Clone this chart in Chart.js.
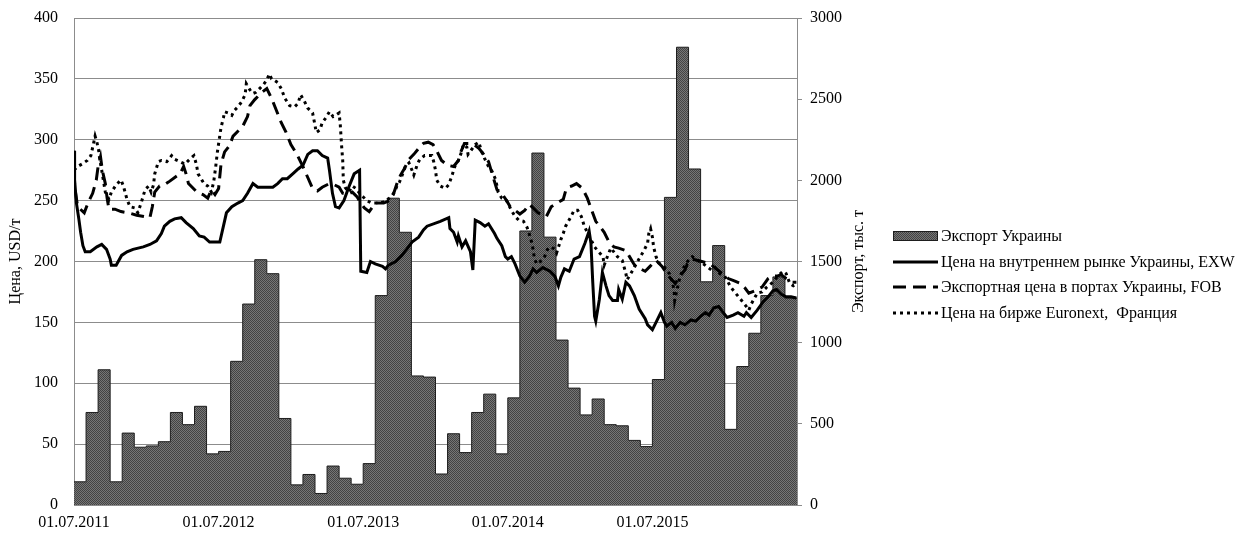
<!DOCTYPE html>
<html>
<head>
<meta charset="utf-8">
<script src="https://cdn.jsdelivr.net/npm/chart.js@4"></script>
<style>
  html, body { margin: 0; padding: 0; background: #ffffff; }
  #wrap { width: 1244px; height: 536px; }
</style>
</head>
<body>
<div id="wrap"><canvas id="chart" width="1244" height="536"></canvas></div>
<script>
// x values are months counted from 01.07.2011
const tickMonths = [0, 12, 24, 36, 48];
const tickLabels = ['01.07.2011', '01.07.2012', '01.07.2013', '01.07.2014', '01.07.2015'];

const leftAxisTitle = 'Цена, USD/т';
const rightAxisTitle = 'Экспорт, тыс. т';
const seriesNames = [
  'Экспорт Украины',
  'Цена на внутреннем рынке Украины, EXW',
  'Экспортная цена в портах Украины, FOB',
  'Цена на бирже Euronext,  Франция'
];

// monthly export volume, thousand tonnes (July 2011 .. June 2016)
const exportVolume = [
  143, 570, 833, 143, 443, 356, 364, 390, 570, 495, 608, 315,
  330, 885, 1238, 1511, 1425, 533, 124, 188, 71, 240, 165, 128,
  255, 1290, 1890, 1680, 795, 788, 191, 439, 323, 570, 683, 315,
  660, 1688, 2168, 1650, 1016, 720, 555, 653, 495, 488, 398, 360,
  773, 1895, 2820, 2070, 1375, 1598, 466, 853, 1058, 1290, 1405, 1275
];

// domestic price EXW, USD/t: [month, price]
const exwPrice = [
  [0,291],[0.05,267],[0.2,248],[0.4,235],[0.55,224],[0.74,213],[0.93,208],[1.35,208],[1.9,212],[2.3,214],
  [2.7,210],[3.0,202],[3.1,197],[3.5,197],[3.95,205],[4.4,208],[4.9,210],[5.75,212],[6.3,214],[6.85,217],
  [7.25,223],[7.5,229],[7.95,233],[8.35,235],[8.9,236],[9.3,232],[9.9,227],[10.4,221],[10.8,220],[11.25,216],
  [12.1,216],[12.4,229],[12.65,240],[13.1,245],[13.6,248],[14.0,250],[14.4,256],[14.85,264],[15.25,261],[16.5,261],
  [16.9,264],[17.3,268],[17.7,268],[18.15,272],[18.6,276],[19.0,279],[19.4,288],[19.8,291],[20.2,291],[20.6,287],
  [21.05,285],[21.2,275],[21.45,256],[21.7,245],[22.0,244],[22.4,250],[22.8,261],[23.25,272],[23.7,275],[23.8,192],
  [24.3,191],[24.6,200],[25.0,198],[25.6,196],[25.85,194],[26.1,197],[26.7,200],[27.2,205],[27.6,210],[28.05,216],
  [28.6,220],[29.0,226],[29.3,229],[30.4,233],[31.1,236],[31.2,227],[31.5,224],[31.8,216],[31.9,221],[32.2,212],
  [32.5,217],[32.9,208],[33.1,193],[33.3,234],[33.7,232],[34.1,229],[34.4,231],[34.9,223],[35.1,219],[35.5,213],
  [35.8,204],[36.0,202],[36.3,204],[36.6,198],[37.0,188],[37.4,183],[37.8,188],[38.1,194],[38.4,191],[38.9,195],
  [39.5,192],[39.9,188],[40.2,180],[40.4,187],[40.7,194],[41.1,192],[41.5,202],[41.95,204],[42.4,215],[42.75,225],
  [42.9,215],[43.05,183],[43.2,155],[43.3,151],[43.6,169],[43.85,191],[44.15,180],[44.4,172],[44.7,168],[45.1,168],
  [45.2,177],[45.5,169],[45.8,183],[46.1,180],[46.5,172],[46.9,161],[47.4,153],[47.6,148],[48.0,144],[48.3,150],
  [48.7,158],[49.0,150],[49.2,147],[49.6,150],[49.9,145],[50.3,150],[50.7,148],[51.2,152],[51.6,151],[52.0,155],
  [52.4,158],[52.7,156],[53.1,162],[53.5,163],[53.8,159],[54.2,154],[54.7,156],[55.1,158],[55.6,155],[55.8,158],
  [56.2,154],[56.7,160],[57.2,167],[57.6,171],[58.0,176],[58.3,177],[58.7,173],[59.1,171],[59.5,171],[59.95,170]
];

// export price FOB, USD/t: [month, price]
const fobPrice = [
  [0,291],[0.05,262],[0.3,245],[0.85,240],[1.2,249],[1.55,256],[1.85,267],[2.0,278],[2.2,286],[2.35,275],
  [2.6,264],[2.75,252],[2.9,243],[3.4,243],[3.9,241],[4.5,240],[5.2,238],[5.8,237],[6.3,236],[6.5,245],
  [6.7,257],[7.1,262],[7.5,263],[7.95,266],[8.5,270],[8.8,272],[9.1,278],[9.3,272],[9.5,264],[10.2,257],
  [10.7,255],[11.1,252],[11.4,259],[11.7,255],[12.0,260],[12.2,280],[12.5,290],[12.9,295],[13.2,303],[13.6,307],
  [14.0,311],[14.4,319],[14.6,328],[15.0,333],[15.3,336],[15.6,339],[16.0,342],[16.4,334],[16.8,324],[17.2,314],
  [17.6,306],[18.0,296],[18.5,288],[19.0,278],[19.4,269],[19.8,260],[20.2,258],[20.6,261],[21.2,264],[21.6,263],
  [22.0,261],[22.3,256],[22.7,255],[23.1,257],[23.5,253],[23.8,248],[24.1,244],[24.5,241],[25.0,248],[25.7,248],
  [26.2,250],[26.5,255],[26.8,264],[27.1,271],[27.4,276],[27.8,284],[28.2,288],[28.7,294],[29.0,297],[29.4,298],
  [29.8,296],[30.1,291],[30.5,283],[31.0,279],[31.5,278],[31.9,283],[32.1,290],[32.4,297],[32.8,297],[33.2,296],
  [33.6,293],[34.0,288],[34.4,282],[34.7,272],[35.1,259],[35.5,256],[35.9,250],[36.2,245],[36.6,242],[37.0,239],
  [37.4,242],[37.8,247],[38.2,243],[38.5,240],[38.9,238],[39.2,237],[39.6,245],[40.1,248],[40.6,251],[40.8,258],
  [41.0,261],[41.3,262],[41.7,264],[42.2,260],[42.6,252],[43.0,241],[43.3,233],[43.7,228],[44.0,224],[44.4,216],
  [44.8,212],[45.2,211],[45.8,209],[46.1,204],[46.4,199],[46.6,196],[47.0,194],[47.4,192],[47.8,196],[48.3,201],
  [48.8,196],[49.2,190],[49.6,185],[49.9,182],[50.3,188],[50.7,193],[50.9,198],[51.3,202],[51.7,201],[52.1,200],
  [52.8,198],[53.3,194],[53.8,190],[54.3,186],[54.8,184],[55.3,182],[55.7,178],[56.0,174],[56.5,176],[57.1,179],
  [57.6,186],[57.9,188],[58.3,188],[58.7,189],[59.1,186],[59.6,183],[59.95,183]
];

// Euronext (France) quote, USD/t: [month, price]
const euronextPrice = [
  [0,275],[0.3,278],[0.65,280],[1.1,283],[1.4,287],[1.6,296],[1.75,303],[1.9,298],[2.05,291],[2.15,283],
  [2.3,275],[2.6,257],[2.9,251],[3.1,257],[3.5,263],[3.9,267],[4.1,262],[4.4,251],[4.65,245],[5.05,244],
  [5.3,240],[5.6,249],[5.9,259],[6.2,262],[6.4,257],[6.6,263],[6.7,272],[7.0,282],[7.25,283],[7.7,282],
  [8.1,287],[8.35,284],[8.8,282],[9.2,280],[9.6,284],[9.95,287],[10.15,280],[10.3,272],[10.6,267],[10.8,264],
  [11.1,262],[11.4,257],[11.6,266],[11.75,277],[11.9,290],[12.05,300],[12.2,310],[12.4,318],[12.5,323],[12.8,322],
  [13.1,320],[13.3,324],[13.6,327],[13.9,331],[14.2,337],[14.3,346],[14.6,341],[14.85,338],[15.1,339],[15.4,342],
  [15.7,345],[16.0,349],[16.2,354],[16.4,350],[16.6,349],[16.9,347],[17.2,342],[17.5,334],[17.9,328],[18.3,327],
  [18.6,330],[18.8,337],[19.1,332],[19.4,326],[19.8,322],[20.0,312],[20.1,306],[20.4,308],[20.6,314],[20.9,318],
  [21.2,323],[21.5,319],[21.7,320],[22.0,322],[22.1,312],[22.2,296],[22.3,283],[22.35,267],[22.5,261],[22.8,257],
  [23.1,262],[23.4,260],[23.7,256],[24.0,253],[24.3,250],[24.7,248],[25.3,248],[25.8,249],[26.3,253],[26.6,257],
  [26.8,262],[27.0,265],[27.2,270],[27.5,278],[27.8,281],[28.05,275],[28.2,271],[28.5,280],[28.7,284],[29.1,287],
  [29.7,287],[29.85,282],[30.0,275],[30.1,267],[30.4,262],[30.8,260],[31.1,263],[31.35,270],[31.6,278],[31.9,283],
  [32.2,291],[32.3,296],[32.6,294],[32.7,288],[33.0,292],[33.3,296],[33.6,298],[33.8,291],[34.1,284],[34.4,278],
  [34.7,274],[35.0,267],[35.2,257],[35.5,252],[35.9,250],[36.3,242],[36.6,237],[36.9,234],[37.3,233],[37.6,228],
  [37.8,222],[37.95,217],[38.1,210],[38.2,203],[38.4,198],[38.7,200],[39.05,204],[39.3,210],[39.6,212],[39.9,210],
  [40.05,207],[40.4,218],[40.6,223],[40.8,229],[41.25,237],[41.5,242],[41.8,242],[42.1,237],[42.35,229],[42.9,218],
  [43.2,212],[43.45,209],[43.9,204],[44.0,197],[44.3,205],[44.55,211],[45.1,204],[45.5,201],[45.8,190],[45.9,185],
  [46.2,190],[46.6,197],[47.0,204],[47.3,209],[47.6,215],[47.7,223],[47.85,227],[48.0,220],[48.1,212],[48.3,204],
  [48.5,199],[48.95,196],[49.4,190],[49.6,185],[49.8,177],[49.85,168],[50.0,175],[50.3,188],[50.7,197],[51.0,201],
  [51.3,204],[51.7,201],[52.1,199],[52.5,196],[52.9,193],[53.2,195],[53.6,190],[54.0,188],[54.5,179],[54.9,174],
  [55.4,168],[55.8,163],[56.0,160],[56.2,165],[56.7,174],[57.1,175],[57.5,179],[58.0,183],[58.4,188],[58.85,192],
  [59.1,190],[59.4,182],[59.7,180],[59.95,181]
];

const FONT = "'Liberation Serif', 'Times New Roman', serif";
Chart.defaults.font.family = FONT;
Chart.defaults.font.size = 16;
Chart.defaults.color = '#000000';

// fine grey texture for the export area
function makeTexture() {
  const c = document.createElement('canvas');
  c.width = 2; c.height = 2;
  const g = c.getContext('2d');
  g.fillStyle = '#767676';
  g.fillRect(0, 0, 2, 2);
  g.fillStyle = '#434343';
  g.fillRect(0, 0, 1, 1);
  g.fillRect(1, 1, 1, 1);
  return g.createPattern(c, 'repeat');
}
const exportFill = makeTexture();

// stepped area: each month holds its value until the next month starts
const exportPoints = exportVolume.map((v, i) => ({ x: i, y: v }));
exportPoints.push({ x: exportVolume.length, y: exportVolume[exportVolume.length - 1] });

const toPoints = arr => arr.map(p => ({ x: p[0], y: p[1] }));

const GRID = '#8c8c8c';

// value axes keep their label gap without pushing the plot down
const noEdgePadding = scale => { scale.paddingTop = 0; scale.paddingBottom = 0; };

// right-hand axis title and legend drawn beside the plot
const sideDecor = {
  id: 'sideDecor',
  afterDraw(chart) {
    const { ctx, chartArea } = chart;
    const midY = (chartArea.top + chartArea.bottom) / 2;

    ctx.save();
    ctx.font = '16px ' + FONT;
    ctx.fillStyle = '#000';
    ctx.textAlign = 'center';
    ctx.textBaseline = 'middle';
    ctx.translate(chartArea.right + 62, midY);
    ctx.rotate(-Math.PI / 2);
    ctx.fillText(rightAxisTitle, 0, 0);
    ctx.restore();

    const x0 = chartArea.right + 96;
    const w = 45;
    const rowMid = midY + 13;
    chart.data.datasets.forEach((ds, i) => {
      const y = Math.round(rowMid + (i - 1.5) * 25.5);
      ctx.save();
      if (ds.fill) {
        ctx.fillStyle = ds.backgroundColor;
        ctx.fillRect(x0, y - 5, w, 10);
        ctx.strokeStyle = ds.borderColor;
        ctx.lineWidth = 1;
        ctx.strokeRect(x0 + 0.5, y - 4.5, w - 1, 9);
      } else {
        ctx.strokeStyle = ds.borderColor;
        ctx.lineWidth = ds.borderWidth;
        ctx.setLineDash(ds.borderDash || []);
        ctx.beginPath();
        ctx.moveTo(x0, y);
        ctx.lineTo(x0 + w, y);
        ctx.stroke();
        ctx.setLineDash([]);
      }
      ctx.font = '16px ' + FONT;
      ctx.fillStyle = '#000';
      ctx.textAlign = 'left';
      ctx.textBaseline = 'middle';
      ctx.fillText(ds.label, x0 + w + 3, y + 1);
      ctx.restore();
    });
  }
};

new Chart(document.getElementById('chart'), {
  type: 'line',
  data: {
    datasets: [
      {
        label: seriesNames[0],
        data: exportPoints,
        yAxisID: 'y2',
        stepped: 'before',
        fill: 'origin',
        backgroundColor: exportFill,
        borderColor: '#1e1e1e',
        borderWidth: 1,
        pointRadius: 0,
        order: 2
      },
      {
        label: seriesNames[1],
        data: toPoints(exwPrice),
        yAxisID: 'y',
        borderColor: '#000000',
        borderWidth: 3,
        pointRadius: 0,
        fill: false,
        tension: 0,
        order: 0
      },
      {
        label: seriesNames[2],
        data: toPoints(fobPrice),
        yAxisID: 'y',
        borderColor: '#000000',
        borderWidth: 3,
        borderDash: [13, 7],
        pointRadius: 0,
        fill: false,
        tension: 0,
        order: 0
      },
      {
        label: seriesNames[3],
        data: toPoints(euronextPrice),
        yAxisID: 'y',
        borderColor: '#000000',
        borderWidth: 3,
        borderDash: [3, 4],
        pointRadius: 0,
        fill: false,
        tension: 0,
        order: 0
      }
    ]
  },
  options: {
    responsive: false,
    animation: false,
    layout: { padding: { left: 0, right: 367, top: 18, bottom: 0 } },
    plugins: { legend: { display: false }, tooltip: { enabled: false } },
    scales: {
      x: {
        type: 'linear',
        min: 0,
        max: 60,
        afterBuildTicks: scale => { scale.ticks = tickMonths.map(v => ({ value: v })); },
        afterFit: scale => { scale.height = 31; },
        ticks: {
          callback: (value, index) => tickLabels[index],
          autoSkip: false,
          maxRotation: 0,
          minRotation: 0,
          padding: 8,
          color: '#000'
        },
        grid: { display: false, drawTicks: false },
        border: { display: true, color: GRID, width: 1 }
      },
      y: {
        position: 'left',
        min: 0,
        max: 400,
        afterFit: scale => { scale.width = 74; noEdgePadding(scale); },
        ticks: { stepSize: 50, padding: 16, color: '#000' },
        grid: { color: GRID, lineWidth: 1, drawTicks: false },
        border: { color: GRID, width: 1 },
        title: { display: true, text: leftAxisTitle, color: '#000', padding: { top: 6, bottom: 0 }, font: { size: 16 } }
      },
      y2: {
        position: 'right',
        min: 0,
        max: 3000,
        afterFit: scale => { scale.width = 80; noEdgePadding(scale); },
        ticks: { stepSize: 500, padding: 8, color: '#000', callback: value => String(value) },
        grid: { drawOnChartArea: false, drawTicks: true, tickLength: 5, color: GRID },
        border: { color: GRID, width: 1 }
      }
    }
  },
  plugins: [sideDecor]
});
</script>
</body>
</html>
